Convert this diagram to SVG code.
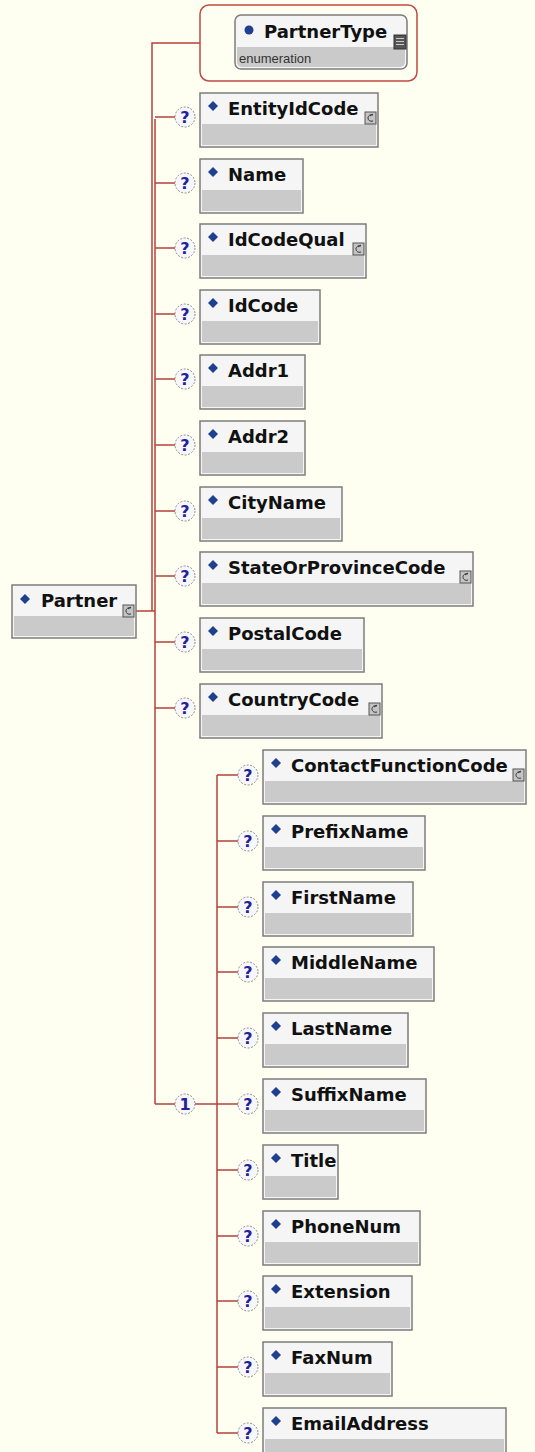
<svg xmlns="http://www.w3.org/2000/svg" width="535" height="1452" viewBox="0 0 535 1452">
<style>
.bg{fill:#fefef1}
.box{fill:#f5f5f5;stroke:#7c7c7c;stroke-width:1.5}
.band{fill:#cacaca}
.dia{fill:#1f3f8f}
.lbl{font-family:"DejaVu Sans",Verdana,sans-serif;font-weight:bold;font-size:18px;fill:#111}
.enum{font-family:"Liberation Sans",Arial,sans-serif;font-size:13px;fill:#333}
.q{fill:#f6f6fb;stroke:#8a8a8a;stroke-width:1;stroke-dasharray:2 1.5}
.qt{font-family:"DejaVu Sans",Verdana,sans-serif;font-weight:bold;font-size:16px;fill:#22229a;text-anchor:middle}
.ic{fill:#c4c4c4;stroke:#555;stroke-width:1}
.icp{fill:none;stroke:#333;stroke-width:1}
.ln{fill:none;stroke:#b5413c;stroke-width:1.5}
</style>
<defs>
<g id="icon"><rect class="ic" x="0" y="0" width="11" height="12"/><path class="icp" d="M8,3 C5,2 3,4 3,6 C3,8 5,10 8,9 M5,4 L8,2"/></g>
<g id="qm"><circle class="q" cx="0" cy="0" r="10"/><text class="qt" x="0" y="6">?</text></g>
</defs>
<rect class="bg" x="0" y="0" width="535" height="1452"/>

<g id="connectors">
<path class="ln" d="M136,611 H155 M152,611 V43 H200"/>
<path class="ln" d="M155,119 V1104"/>
<path class="ln" d="M155,117 H175 M155,183 H175 M155,248 H175 M155,314 H175 M155,379 H175 M155,445 H175 M155,511 H175 M155,576 H175 M155,642 H175 M155,708 H175"/>
<path class="ln" d="M155,1104 H175 M195,1104 H217"/>
<path class="ln" d="M217,775 V1433 M217,775 H238 M217,841 H238 M217,907 H238 M217,972 H238 M217,1038 H238 M217,1104 H238 M217,1170 H238 M217,1236 H238 M217,1301 H238 M217,1367 H238 M217,1433 H238"/>
</g>

<g id="Partner">
<rect class="box" x="12" y="585" width="124" height="53"/>
<rect class="band" x="14" y="616" width="120" height="20"/>
<path class="dia" d="M25,594 l5,5 -5,5 -5,-5z"/>
<text class="lbl" x="41" y="607">Partner</text>
<use href="#icon" x="123" y="605"/>
</g>

<g id="PartnerType">
<rect x="200" y="5" width="217" height="76" rx="9" fill="none" stroke="#c04a44" stroke-width="1.5"/>
<rect x="235" y="15" width="172" height="54" rx="6" fill="#f5f5f5" stroke="#7c7c7c" stroke-width="1.5"/>
<path class="band" d="M237,47 H405 V62 a5,5 0 0 1 -5,5 H242 a5,5 0 0 1 -5,-5z"/>
<circle cx="249" cy="30" r="4.5" fill="#1f3f8f"/>
<text class="lbl" x="264" y="38">PartnerType</text>
<text class="enum" x="239" y="63">enumeration</text>
<rect x="394" y="35" width="12" height="14" fill="#555" stroke="#333"/>
<path d="M396,38.5 H404 M396,41.5 H404 M396,44.5 H404" stroke="#ccc" stroke-width="1"/>
</g>

<g id="EntityIdCode">
<use href="#qm" x="185" y="117"/>
<rect class="box" x="200" y="93" width="178" height="54"/>
<rect class="band" x="202" y="124" width="174" height="21"/>
<path class="dia" d="M213,101 l5,5 -5,5 -5,-5z"/>
<text class="lbl" x="228" y="115">EntityIdCode</text>
<use href="#icon" x="365" y="112"/>
</g>

<g id="Name">
<use href="#qm" x="185" y="183"/>
<rect class="box" x="200" y="159" width="103" height="54"/>
<rect class="band" x="202" y="190" width="99" height="21"/>
<path class="dia" d="M213,167 l5,5 -5,5 -5,-5z"/>
<text class="lbl" x="228" y="181">Name</text>
</g>

<g id="IdCodeQual">
<use href="#qm" x="185" y="248"/>
<rect class="box" x="200" y="224" width="166" height="54"/>
<rect class="band" x="202" y="255" width="162" height="21"/>
<path class="dia" d="M213,232 l5,5 -5,5 -5,-5z"/>
<text class="lbl" x="228" y="246">IdCodeQual</text>
<use href="#icon" x="353" y="243"/>
</g>

<g id="IdCode">
<use href="#qm" x="185" y="314"/>
<rect class="box" x="200" y="290" width="120" height="54"/>
<rect class="band" x="202" y="321" width="116" height="21"/>
<path class="dia" d="M213,298 l5,5 -5,5 -5,-5z"/>
<text class="lbl" x="228" y="312">IdCode</text>
</g>

<g id="Addr1">
<use href="#qm" x="185" y="379"/>
<rect class="box" x="200" y="355" width="105" height="54"/>
<rect class="band" x="202" y="386" width="101" height="21"/>
<path class="dia" d="M213,363 l5,5 -5,5 -5,-5z"/>
<text class="lbl" x="228" y="377">Addr1</text>
</g>

<g id="Addr2">
<use href="#qm" x="185" y="445"/>
<rect class="box" x="200" y="421" width="105" height="54"/>
<rect class="band" x="202" y="452" width="101" height="21"/>
<path class="dia" d="M213,429 l5,5 -5,5 -5,-5z"/>
<text class="lbl" x="228" y="443">Addr2</text>
</g>

<g id="CityName">
<use href="#qm" x="185" y="511"/>
<rect class="box" x="200" y="487" width="142" height="54"/>
<rect class="band" x="202" y="518" width="138" height="21"/>
<path class="dia" d="M213,495 l5,5 -5,5 -5,-5z"/>
<text class="lbl" x="228" y="509">CityName</text>
</g>

<g id="StateOrProvinceCode">
<use href="#qm" x="185" y="576"/>
<rect class="box" x="200" y="552" width="273" height="54"/>
<rect class="band" x="202" y="583" width="269" height="21"/>
<path class="dia" d="M213,560 l5,5 -5,5 -5,-5z"/>
<text class="lbl" x="228" y="574">StateOrProvinceCode</text>
<use href="#icon" x="460" y="571"/>
</g>

<g id="PostalCode">
<use href="#qm" x="185" y="642"/>
<rect class="box" x="200" y="618" width="164" height="54"/>
<rect class="band" x="202" y="649" width="160" height="21"/>
<path class="dia" d="M213,626 l5,5 -5,5 -5,-5z"/>
<text class="lbl" x="228" y="640">PostalCode</text>
</g>

<g id="CountryCode">
<use href="#qm" x="185" y="708"/>
<rect class="box" x="200" y="684" width="182" height="54"/>
<rect class="band" x="202" y="715" width="178" height="21"/>
<path class="dia" d="M213,692 l5,5 -5,5 -5,-5z"/>
<text class="lbl" x="228" y="706">CountryCode</text>
<use href="#icon" x="369" y="703"/>
</g>

<g id="choice1">
<circle class="q" cx="185" cy="1104" r="10"/>
<text class="qt" x="185" y="1110">1</text>
</g>

<g id="ContactFunctionCode">
<use href="#qm" x="248" y="775"/>
<rect class="box" x="263" y="750" width="263" height="54"/>
<rect class="band" x="265" y="781" width="259" height="21"/>
<path class="dia" d="M276,758 l5,5 -5,5 -5,-5z"/>
<text class="lbl" x="291" y="772">ContactFunctionCode</text>
<use href="#icon" x="513" y="769"/>
</g>

<g id="PrefixName">
<use href="#qm" x="248" y="841"/>
<rect class="box" x="263" y="816" width="162" height="54"/>
<rect class="band" x="265" y="847" width="158" height="21"/>
<path class="dia" d="M276,824 l5,5 -5,5 -5,-5z"/>
<text class="lbl" x="291" y="838">PrefixName</text>
</g>

<g id="FirstName">
<use href="#qm" x="248" y="907"/>
<rect class="box" x="263" y="882" width="150" height="54"/>
<rect class="band" x="265" y="913" width="146" height="21"/>
<path class="dia" d="M276,890 l5,5 -5,5 -5,-5z"/>
<text class="lbl" x="291" y="904">FirstName</text>
</g>

<g id="MiddleName">
<use href="#qm" x="248" y="972"/>
<rect class="box" x="263" y="947" width="171" height="54"/>
<rect class="band" x="265" y="978" width="167" height="21"/>
<path class="dia" d="M276,955 l5,5 -5,5 -5,-5z"/>
<text class="lbl" x="291" y="969">MiddleName</text>
</g>

<g id="LastName">
<use href="#qm" x="248" y="1038"/>
<rect class="box" x="263" y="1013" width="145" height="54"/>
<rect class="band" x="265" y="1044" width="141" height="21"/>
<path class="dia" d="M276,1021 l5,5 -5,5 -5,-5z"/>
<text class="lbl" x="291" y="1035">LastName</text>
</g>

<g id="SuffixName">
<use href="#qm" x="248" y="1104"/>
<rect class="box" x="263" y="1079" width="163" height="54"/>
<rect class="band" x="265" y="1110" width="159" height="21"/>
<path class="dia" d="M276,1087 l5,5 -5,5 -5,-5z"/>
<text class="lbl" x="291" y="1101">SuffixName</text>
</g>

<g id="Title">
<use href="#qm" x="248" y="1170"/>
<rect class="box" x="263" y="1145" width="75" height="54"/>
<rect class="band" x="265" y="1176" width="71" height="21"/>
<path class="dia" d="M276,1153 l5,5 -5,5 -5,-5z"/>
<text class="lbl" x="291" y="1167">Title</text>
</g>

<g id="PhoneNum">
<use href="#qm" x="248" y="1236"/>
<rect class="box" x="263" y="1211" width="157" height="54"/>
<rect class="band" x="265" y="1242" width="153" height="21"/>
<path class="dia" d="M276,1219 l5,5 -5,5 -5,-5z"/>
<text class="lbl" x="291" y="1233">PhoneNum</text>
</g>

<g id="Extension">
<use href="#qm" x="248" y="1301"/>
<rect class="box" x="263" y="1276" width="149" height="54"/>
<rect class="band" x="265" y="1307" width="145" height="21"/>
<path class="dia" d="M276,1284 l5,5 -5,5 -5,-5z"/>
<text class="lbl" x="291" y="1298">Extension</text>
</g>

<g id="FaxNum">
<use href="#qm" x="248" y="1367"/>
<rect class="box" x="263" y="1342" width="129" height="54"/>
<rect class="band" x="265" y="1373" width="125" height="21"/>
<path class="dia" d="M276,1350 l5,5 -5,5 -5,-5z"/>
<text class="lbl" x="291" y="1364">FaxNum</text>
</g>

<g id="EmailAddress">
<use href="#qm" x="248" y="1433"/>
<rect class="box" x="263" y="1408" width="243" height="54"/>
<rect class="band" x="265" y="1439" width="239" height="21"/>
<path class="dia" d="M276,1416 l5,5 -5,5 -5,-5z"/>
<text class="lbl" x="291" y="1430">EmailAddress</text>
</g>
</svg>
